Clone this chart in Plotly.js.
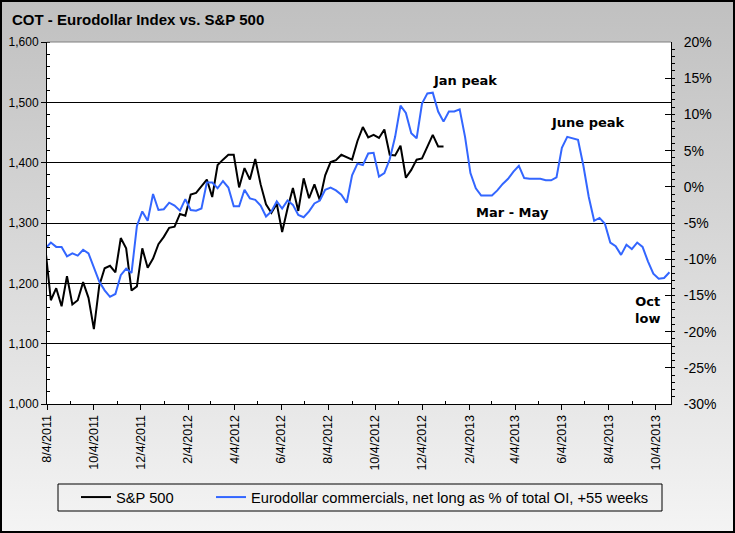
<!DOCTYPE html>
<html><head><meta charset="utf-8">
<script src="https://cdn.plot.ly/plotly-3.0.1.min.js"></script>
<style>
html,body{margin:0;padding:0;}
#wrap{position:relative;width:735px;height:533px;background:linear-gradient(to bottom,#c0c0c0 0%,#f4f4f4 100%);overflow:hidden;}
#chart{position:absolute;left:0;top:0;width:735px;height:533px;}
#frame{position:absolute;left:0;top:0;width:735px;height:533px;box-sizing:border-box;border:2px solid #000;pointer-events:none;}
</style></head><body>
<div id="wrap"><div id="chart"></div><div id="frame"></div></div>
<script>
// Weekly (Tuesday) observation dates starting 2011-08-02
const firstDate = '2011-08-02';
// S&P 500 weekly close
const spx = [1256,1172,1192,1162,1212,1165,1172,1202,1176,1124,
  1196,1225,1229,1218,1275,1258,1188,1195,1258,1226,
  1241,1265,1277,1292,1294,1315,1312,1347,1350,1362,
  1372,1343,1396,1405,1413,1413,1359,1391,1372,1406,
  1364,1331,1317,1332,1285,1324,1358,1320,1374,1341,
  1364,1338,1379,1401,1404,1413,1409,1405,1436,1459,
  1442,1446,1441,1455,1413,1412,1428,1375,1388,1405,
  1407,1427,1446,1427,1427];
// Eurodollar commercials net long as % of total OI, shifted +55 weeks
const edollar = [-8.5,-7.7,-8.3,-8.3,-9.6,-9.2,-9.5,-8.7,-9.2,-11.3,
  -13.1,-14.3,-15.2,-14.8,-12.2,-11.3,-11.9,-5.4,-3.4,-4.7,
  -1.0,-3.2,-3.1,-2.2,-2.6,-3.3,-1.7,-3.2,-3.3,-3.0,
  0.6,0.6,-0.2,0.8,-0.1,-2.7,-2.7,-0.4,-1.6,-1.8,
  -2.6,-4.1,-3.4,-2.0,-3.0,-1.9,-2.5,-3.9,-4.2,-3.4,
  -2.3,-1.9,-0.4,-0.1,-0.5,-1.1,-2.2,1.6,3.2,3.0,
  4.6,4.7,1.4,1.9,3.8,6.9,11.2,10.2,7.4,6.7,
  11.5,12.9,13.0,10.4,9.0,10.4,10.4,10.7,6.9,1.9,
  -0.2,-1.2,-1.2,-1.2,-0.5,0.4,1.1,2.1,2.9,1.2,
  1.1,1.1,1.1,0.9,0.9,1.3,5.4,6.9,6.7,6.5,
  2.9,-1.4,-4.7,-4.3,-5.1,-7.7,-8.2,-9.4,-8.0,-8.6,
  -7.7,-8.3,-10.3,-12.0,-12.7,-12.6,-11.8];

const xTickVals = ['2011-08-04','2011-10-04','2011-12-04','2012-02-04','2012-04-04','2012-06-04','2012-08-04','2012-10-04','2012-12-04','2013-02-04','2013-04-04','2013-06-04','2013-08-04','2013-10-04'];
const xTickText = ['8/4/2011','10/4/2011','12/4/2011','2/4/2012','4/4/2012','6/4/2012','8/4/2012','10/4/2012','12/4/2012','2/4/2013','4/4/2013','6/4/2013','8/4/2013','10/4/2013'];
const xMinorVals = ['2011-09-04','2011-11-04','2012-01-04','2012-03-04','2012-05-04','2012-07-04','2012-09-04','2012-11-04','2013-01-04','2013-03-04','2013-05-04','2013-07-04','2013-09-04'];
const y2TickVals = [-30,-25,-20,-15,-10,-5,0,5,10,15,20];
const y2TickText = ['-30%','-25%','-20%','-15%','-10%','-5%','0%','5%','10%','15%','20%'];
const seriesNames = ['S&P 500','Eurodollar commercials, net long as % of total OI, +55 weeks'];

function weeklyDates(start, n){
  const p = start.split('-').map(Number);
  const t0 = Date.UTC(p[0], p[1]-1, p[2]);
  const out = [];
  for (let i=0;i<n;i++) out.push(new Date(t0 + i*7*86400000).toISOString().slice(0,10));
  return out;
}
const dates = weeklyDates(firstDate, edollar.length);

const L=47, R=671, T=42, B=404;
const px = v => (v-L)/(R-L);
const py = v => (B-v)/(B-T);

const traces = [
  {x: dates.slice(0, spx.length), y: spx, type:'scatter', mode:'lines', name: seriesNames[0],
   line:{color:'#000000', width:2}, yaxis:'y', legend:'legend'},
  {x: dates, y: edollar, type:'scatter', mode:'lines', name: seriesNames[1],
   line:{color:'#3366ff', width:2}, yaxis:'y2', legend:'legend2'}
];

const annFont = {family:'"DejaVu Sans", Verdana, sans-serif', size:13, color:'#000'};
const layout = {
  width:735, height:533,
  paper_bgcolor:'rgba(0,0,0,0)', plot_bgcolor:'#ffffff',
  margin:{l:L, r:735-R, t:T, b:533-B, autoexpand:false},
  font:{family:'"Liberation Sans", Arial, sans-serif', size:12, color:'#000'},
  title:{text:'<b>COT - Eurodollar Index vs. S&P 500</b>', font:{size:15, color:'#000'},
    xref:'container', yref:'container', x:12/735, xanchor:'left', y:1-19.5/533, yanchor:'middle'},
  xaxis:{type:'date', range:['2011-08-04','2013-10-24'], tickmode:'array', tickvals:xTickVals, ticktext:xTickText,
    tickangle:-90, ticks:'outside', ticklen:5, tickcolor:'#000', showline:true, linecolor:'#000', linewidth:1,
    showgrid:false, zeroline:false, tickfont:{size:12.5},
    minor:{tickmode:'array', tickvals:xMinorVals, ticks:'inside', ticklen:3, tickcolor:'#000', showgrid:false}},
  yaxis:{range:[1000,1600], tick0:1000, dtick:100, tickformat:',', ticks:'outside', ticklen:5, tickcolor:'#000',
    showline:true, linecolor:'#000', linewidth:1, showgrid:true, gridcolor:'#000', gridwidth:1, zeroline:false,
    tickfont:{size:12},
    minor:{tick0:1000, dtick:20, ticks:'inside', ticklen:3, tickcolor:'#000', showgrid:false}},
  yaxis2:{overlaying:'y', side:'right', range:[-30,20], tickmode:'array', tickvals:y2TickVals, ticktext:y2TickText,
    ticks:'inside', ticklen:6, tickcolor:'#000', showline:true, linecolor:'#000', linewidth:1, showgrid:false,
    zeroline:false, tickfont:{size:14}, ticklabelstandoff:9,
    minor:{tick0:0, dtick:1, ticks:'outside', ticklen:3, tickcolor:'#000', showgrid:false}},
  legend:{x:px(76), xanchor:'left', y:py(497.5), yanchor:'middle', orientation:'h', bgcolor:'rgba(0,0,0,0)',
    borderwidth:0, font:{size:14.7}},
  legend2:{x:px(211), xanchor:'left', y:py(497.5), yanchor:'middle', orientation:'h', bgcolor:'rgba(0,0,0,0)',
    borderwidth:0, font:{size:14.7}},
  shapes:[
    {type:'line', xref:'paper', yref:'paper', x0:0, x1:1, y0:1, y1:1, line:{color:'#808080', width:1}, layer:'above'},
    {type:'rect', xref:'paper', yref:'paper', x0:px(58), x1:px(662), y0:py(511), y1:py(484),
     line:{color:'#000', width:1}, fillcolor:'rgba(0,0,0,0)', layer:'above'}
  ],
  annotations:[
    {text:'<b>Jan peak</b>', xref:'paper', yref:'paper', x:px(464.7), y:py(80.5), showarrow:false, font:annFont, xanchor:'center', yanchor:'middle'},
    {text:'<b>June peak</b>', xref:'paper', yref:'paper', x:px(588), y:py(122.7), showarrow:false, font:annFont, xanchor:'center', yanchor:'middle'},
    {text:'<b>Mar - May</b>', xref:'paper', yref:'paper', x:px(512), y:py(212.7), showarrow:false, font:annFont, xanchor:'center', yanchor:'middle'},
    {text:'<b>Oct<br>low</b>', xref:'paper', yref:'paper', x:px(647), y:py(310), showarrow:false, font:annFont, xanchor:'center', yanchor:'middle'}
  ],
  showlegend:true
};
Plotly.newPlot('chart', traces, layout, {staticPlot:true, displayModeBar:false});
</script>
</body></html>
